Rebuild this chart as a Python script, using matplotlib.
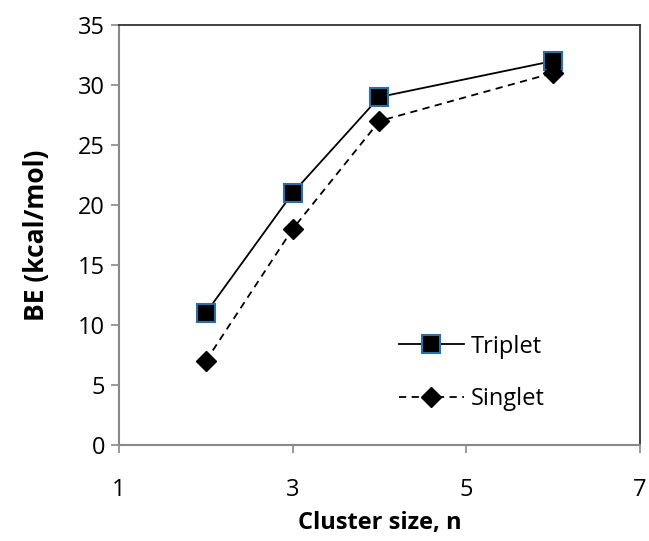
import matplotlib
matplotlib.use('Agg')
import matplotlib.pyplot as plt

# data
cluster_size = [2, 3, 4, 6]
triplet_be = [11, 21, 29, 32]
singlet_be = [7, 18, 27, 31]

x_ticks = [1, 3, 5, 7]
y_ticks = [0, 5, 10, 15, 20, 25, 30, 35]

plt.rcParams['font.family'] = ['Open Sans', 'DejaVu Sans']

fig = plt.figure(figsize=(6.49, 5.41), dpi=100)
ax = fig.add_axes([0.1834, 0.1774, 0.8026, 0.7764])

ax.plot(cluster_size, triplet_be, color='black', lw=1.3, marker='s', ms=13,
        mfc='black', mec='#2a6fa8', mew=1.5, label='Triplet')
ax.plot(cluster_size, singlet_be, color='black', lw=1.3, ls=(0, (4, 3)), marker='D',
        ms=10, mfc='black', mec='black', label='Singlet')

ax.set_xlim(1, 7)
ax.set_ylim(0, 35)
ax.set_xticks(x_ticks)
ax.set_yticks(y_ticks)
ax.tick_params(axis='both', direction='out', length=6, width=1.2, color='#888888',
               labelsize=17, pad=4)
ax.tick_params(axis='x', pad=18)

for side in ['left', 'bottom']:
    ax.spines[side].set_color('#888888')
    ax.spines[side].set_linewidth(1.5)
for side in ['top', 'right']:
    ax.spines[side].set_color('#333333')
    ax.spines[side].set_linewidth(1.3)

ax.set_xlabel('Cluster size, n', fontsize=17, fontweight='bold', labelpad=6)
ax.set_ylabel('BE (kcal/mol)', fontsize=19, fontweight='bold', labelpad=20)

ax.legend(loc='center left', bbox_to_anchor=(0.496, 0.172), frameon=False, fontsize=17,
          handlelength=2.75, labelspacing=1.2, handletextpad=0.3)

fig.savefig('out.png', dpi=100)
